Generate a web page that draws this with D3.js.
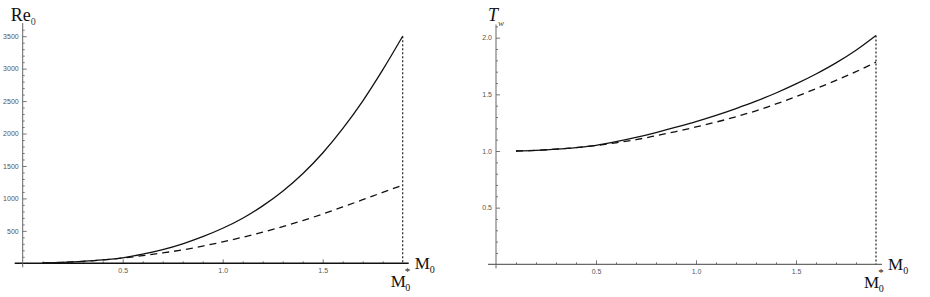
<!DOCTYPE html>
<html>
<head>
<meta charset="utf-8">
<script src="https://cdn.jsdelivr.net/npm/d3@7"></script>
<style>
  body { margin: 0; background: #fff; }
  svg { display: block; }
  .tick text { font-family: 'Liberation Sans', sans-serif; font-size: 7px; fill: #555; }
  .tick line { stroke: #777; }
  .lab { font-family: 'Liberation Serif', serif; fill: #111; }
</style>
</head>
<body>
<svg id="chart" width="930" height="297"></svg>
<script>
// Mach numbers shared by both panels
const mach = [0.1, 0.2, 0.3, 0.4, 0.5, 0.6, 0.7, 0.8, 0.9, 1.0, 1.1, 1.2, 1.3, 1.4, 1.5, 1.6, 1.7, 1.8, 1.9];
const machStar = 1.9;

// left panel, Re0
const reSolid = [5, 15, 30, 52, 85, 140, 210, 300, 410, 540, 695, 885, 1110, 1380, 1700, 2075, 2500, 2980, 3500];
const reDashed = [5, 15, 30, 52, 82, 118, 160, 207, 265, 330, 402, 480, 565, 658, 760, 868, 980, 1093, 1205];
const reTicks = [500, 1000, 1500, 2000, 2500, 3000, 3500];

// right panel, Tw
const twSolid = [1.0, 1.006, 1.016, 1.03, 1.05, 1.082, 1.12, 1.163, 1.21, 1.26, 1.315, 1.375, 1.44, 1.512, 1.592, 1.68, 1.778, 1.89, 2.02];
const twDashed = [1.0, 1.006, 1.016, 1.03, 1.048, 1.072, 1.10, 1.135, 1.172, 1.212, 1.255, 1.302, 1.355, 1.415, 1.48, 1.55, 1.623, 1.70, 1.785];
const twTicks = [0.5, 1.0, 1.5, 2.0];

const machTicks = [0.5, 1.0, 1.5];

const svg = d3.select('#chart');

function panel(opts)
{
  const x = d3.scaleLinear().domain([0, 1.9]).range(opts.xr);
  const y = d3.scaleLinear().domain(opts.yd).range(opts.yr);
  const g = svg.append('g').attr('color', '#555');

  // minor ticks
  const xMinor = d3.range(0.1, 1.85, 0.1).filter(v => Math.abs(v * 2 - Math.round(v * 2)) > 0.01);
  g.append('g')
    .attr('transform', 'translate(0,' + y(0) + ')')
    .call(d3.axisBottom(x).tickValues(xMinor).tickSizeInner(-2).tickSizeOuter(0).tickFormat(''))
    .call(a => a.select('.domain').remove());
  g.append('g')
    .attr('transform', 'translate(' + x(0) + ',0)')
    .call(d3.axisLeft(y).tickValues(opts.yMinor).tickSizeInner(-2).tickSizeOuter(0).tickFormat(''))
    .call(a => a.select('.domain').remove());

  // major ticks
  g.append('g')
    .attr('transform', 'translate(0,' + y(0) + ')')
    .call(d3.axisBottom(x).tickValues(machTicks).tickSizeInner(-4).tickSizeOuter(0).tickPadding(5).tickFormat(d3.format('.1f')))
    .call(a => a.select('.domain').remove());
  g.append('g')
    .attr('transform', 'translate(' + x(0) + ',0)')
    .call(d3.axisLeft(y).tickValues(opts.yTicks).tickSizeInner(-4).tickSizeOuter(0).tickPadding(4).tickFormat(opts.fmt))
    .call(a => a.select('.domain').remove());

  // axis lines
  g.append('line')
    .attr('x1', x(-0.04)).attr('x2', x(1.93))
    .attr('y1', y(0)).attr('y2', y(0))
    .attr('stroke', opts.xAxisColor).attr('stroke-width', opts.xAxisWidth);
  g.append('line')
    .attr('x1', x(0)).attr('x2', x(0))
    .attr('y1', y(opts.yd[1] * 1.058)).attr('y2', y(-opts.yd[1] * 0.018))
    .attr('stroke', '#666').attr('stroke-width', 1);

  // dotted line at M0*
  g.append('line')
    .attr('x1', x(machStar)).attr('x2', x(machStar))
    .attr('y1', y(opts.solid[opts.solid.length - 1])).attr('y2', y(0))
    .attr('stroke', '#222').attr('stroke-width', 1.2)
    .attr('stroke-dasharray', '2,2');

  const line = d3.line()
    .curve(d3.curveMonotoneX)
    .x((d, i) => x(mach[i]))
    .y(d => y(d));

  g.append('path')
    .datum(opts.dashed)
    .attr('fill', 'none')
    .attr('stroke', '#111')
    .attr('stroke-width', 1.3)
    .attr('stroke-dasharray', '7,5')
    .attr('d', line);

  g.append('path')
    .datum(opts.solid)
    .attr('fill', 'none')
    .attr('stroke', '#111')
    .attr('stroke-width', 1.3)
    .attr('d', line);

  // labels
  const yl = g.append('text').attr('class', 'lab')
    .attr('x', x(0) + opts.yLabDx).attr('y', 21);
  opts.yLabel(yl);

  const ml = g.append('text').attr('class', 'lab')
    .attr('x', x(1.96)).attr('y', y(0) + 6);
  ml.append('tspan').attr('font-size', 17).text('M');
  ml.append('tspan').attr('font-size', 10).attr('dy', 4).text('0');

  const ms = g.append('text').attr('class', 'lab')
    .attr('x', x(machStar) - 12).attr('y', y(0) + 24);
  ms.append('tspan').attr('font-size', 17).text('M');
  ms.append('tspan').attr('font-size', 11).attr('dy', -12).attr('dx', -1).text('*');
  ms.append('tspan').attr('font-size', 10).attr('dy', 16).attr('dx', -5).text('0');
}

panel({
  xr: [22.7, 402.7], yd: [0, 3500], yr: [263.3, 36.2],
  yTicks: reTicks, yMinor: d3.range(100, 3700, 100).filter(v => v % 500 !== 0),
  fmt: d3.format('d'), solid: reSolid, dashed: reDashed,
  xAxisColor: '#111', xAxisWidth: 1.5, yLabDx: -12,
  yLabel: t => {
    t.append('tspan').attr('font-size', 18).text('Re');
    t.append('tspan').attr('font-size', 10).attr('dy', 4).attr('fill', '#444').text('0');
  }
});

panel({
  xr: [496, 876], yd: [0, 2], yr: [264.3, 37.7],
  yTicks: twTicks, yMinor: d3.range(0.1, 2.11, 0.1).filter(v => Math.abs(v * 2 - Math.round(v * 2)) > 0.01),
  fmt: d3.format('.1f'), solid: twSolid, dashed: twDashed,
  xAxisColor: '#444', xAxisWidth: 1, yLabDx: -8,
  yLabel: t => {
    t.append('tspan').attr('font-size', 18).attr('font-style', 'italic').text('T');
    t.append('tspan').attr('font-size', 9).attr('dy', 5).attr('font-style', 'italic').attr('fill', '#444').text('w');
  }
});
</script>
</body>
</html>
